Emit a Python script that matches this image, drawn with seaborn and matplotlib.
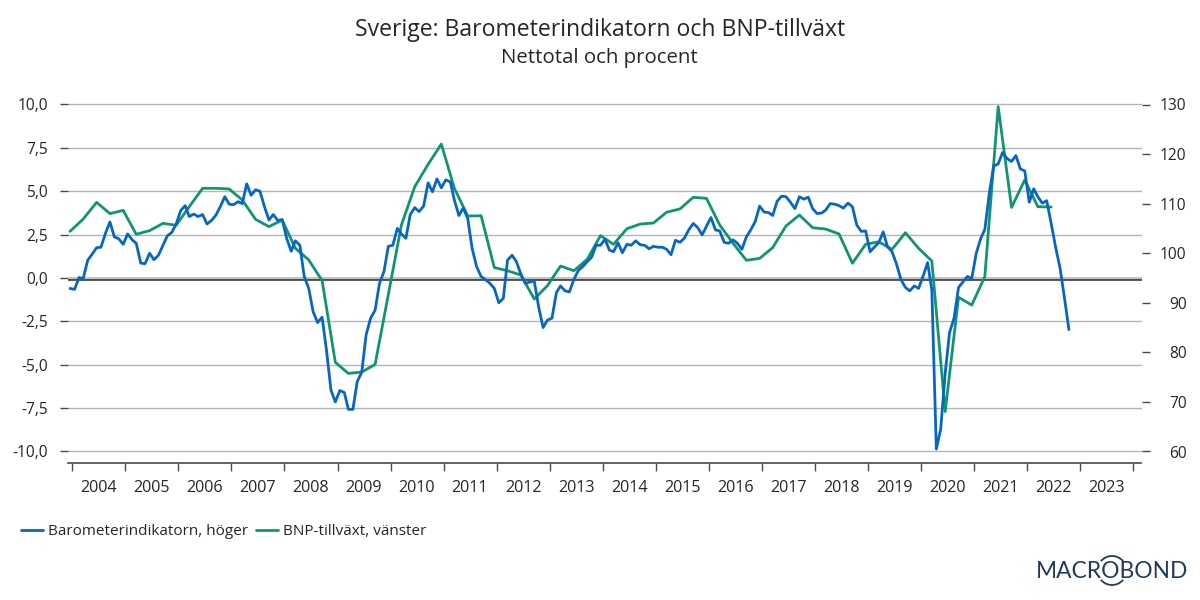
import matplotlib
matplotlib.use("Agg")
import matplotlib.pyplot as plt
import matplotlib.dates as mdates
from matplotlib.patches import Arc
import numpy as np
import pandas as pd
import seaborn as sns

TITLE = "Sverige: Barometerindikatorn och BNP-tillväxt"
SUBTITLE = "Nettotal och procent"
BLUE_NAME = "Barometerindikatorn, höger"
GREEN_NAME = "BNP-tillväxt, vänster"

barometer = [
    92.9, 92.7, 95.1, 94.9, 98.6, 99.8, 101.1, 101.2, 104.0, 106.3, 103.3, 102.9,
    101.8, 103.9, 102.7, 102.0, 98.0, 97.9, 100.0, 98.7, 99.6, 101.6, 103.5, 104.2,
    105.9, 108.6, 109.6, 107.4, 107.9, 107.4, 107.8, 105.9, 106.6, 107.7, 109.4, 111.4,
    109.9, 109.8, 110.4, 110.0, 114.0, 111.7, 112.8, 112.5, 109.4, 106.7, 107.8, 106.6,
    106.8, 103.0, 100.4, 102.5, 101.6, 95.3, 92.9, 88.2, 86.0, 87.1, 80.5, 72.4,
    70.0, 72.3, 71.9, 68.5, 68.5, 74.1, 76.0, 83.5, 86.9, 88.5, 93.9, 96.3,
    101.4, 101.6, 105.0, 103.9, 103.0, 107.8, 109.2, 108.4, 109.5, 114.2, 112.4, 115.0,
    113.2, 114.8, 114.4, 110.7, 107.6, 109.1, 107.0, 101.0, 97.3, 95.3, 94.7, 93.9,
    92.9, 90.0, 90.9, 98.6, 99.6, 98.3, 95.8, 93.9, 94.2, 94.4, 89.2, 85.0,
    86.5, 86.9, 92.1, 93.4, 92.4, 92.2, 94.7, 96.5, 97.3, 98.3, 99.2, 101.6,
    101.6, 102.8, 100.6, 100.3, 102.1, 100.1, 101.8, 101.6, 102.5, 101.7, 101.6, 100.9,
    101.4, 101.2, 101.2, 100.8, 99.7, 102.6, 102.2, 103.0, 104.7, 106.0, 105.2, 103.7,
    105.4, 107.2, 104.7, 104.5, 102.2, 102.0, 102.7, 102.0, 100.8, 103.3, 104.7, 106.4,
    109.5, 108.3, 108.2, 107.6, 110.5, 111.5, 111.4, 110.3, 109.0, 111.4, 110.9, 111.3,
    109.0, 108.0, 108.1, 108.7, 110.0, 109.9, 109.6, 109.1, 110.1, 109.4, 105.7, 104.4,
    104.5, 100.3, 101.3, 102.1, 104.3, 101.3, 100.3, 97.9, 94.7, 93.1, 92.4, 93.4,
    92.9, 95.4, 98.1, 92.6, 60.5, 64.5, 75.8, 84.0, 86.9, 93.1, 94.2, 95.3,
    94.9, 100.0, 103.0, 104.8, 112.1, 117.6, 118.0, 120.3, 119.1, 118.5, 119.7, 117.0,
    116.6, 110.3, 113.0, 111.4, 110.1, 110.6, 106.0, 101.3, 97.0, 90.9, 84.6,
]

bnp = [
    2.69, 3.40, 4.36, 3.71, 3.90, 2.52, 2.73, 3.15, 3.04, 4.11, 5.17, 5.17, 5.13,
    4.50, 3.38, 2.96, 3.34, 1.71, 1.04, -0.15, -4.86, -5.50, -5.42, -4.98, -0.96,
    3.05, 5.26, 6.55, 7.72, 5.17, 3.57, 3.59, 0.60, 0.42, 0.17, -1.21, -0.44, 0.69,
    0.42, 1.08, 2.44, 1.94, 2.84, 3.11, 3.17, 3.79, 3.98, 4.65, 4.59, 3.06, 2.00,
    1.02, 1.13, 1.75, 3.00, 3.63, 2.90, 2.82, 2.54, 0.85, 1.94, 2.09, 1.65, 2.61,
    1.71, 0.98, -7.70, -1.11, -1.56, 0.08, 9.88, 4.07, 5.65, 4.11, 4.09,
]

left_ticks = [10, 7.5, 5, 2.5, 0, -2.5, -5, -7.5, -10]
left_labels = ["10,0", "7,5", "5,0", "2,5", "0,0", "-2,5", "-5,0", "-7,5", "-10,0"]
right_ticks = [130, 120, 110, 100, 90, 80, 70, 60]
year_labels = list(range(2004, 2024))

TEXT = "#262626"
GRID = "#b4b4b4"
AXIS = "#4a4a4a"
C_BLUE = "#0766c4"
C_GREEN = "#0f9670"
NAVY = "#1f3b5c"

sns.set_theme(style="white")
plt.rcParams["font.family"] = ["Open Sans", "DejaVu Sans"]
plt.rcParams["text.color"] = TEXT

dates = pd.date_range("2003-12-01", periods=len(barometer), freq="MS") + pd.Timedelta(days=15)
df_b = pd.DataFrame({"date": dates, "value": barometer})
df_g = pd.DataFrame({"date": dates[::3][:len(bnp)], "value": bnp})

fig = plt.figure(figsize=(12, 6), dpi=100)
W, H = 1200, 600
ax_left, ax_right, ax_top, ax_bottom = 67.7, 1141.5, 95.0, 463.0
ax = fig.add_axes([ax_left / W, 1 - ax_bottom / H, (ax_right - ax_left) / W, (ax_bottom - ax_top) / H])
ax.patch.set_visible(False)

px_per_unit = 17.35
y_zero = 278.0
lim_lo = (y_zero - ax_bottom) / px_per_unit
lim_hi = (y_zero - ax_top) / px_per_unit

sns.lineplot(data=df_g, x="date", y="value", ax=ax, color=C_GREEN, linewidth=2.0, label=GREEN_NAME,
             legend=False, errorbar=None, estimator=None, zorder=3)
ax.set_ylim(lim_lo, lim_hi)
ax.set_xlim(pd.Timestamp("2003-11-30"), pd.Timestamp("2024-02-28"))
ax.set_yticks(left_ticks)
ax.set_yticklabels(left_labels)
ax.set_xlabel("")
ax.set_ylabel("")
ax.grid(axis="y", color=GRID, linewidth=1.0, zorder=1)
ax.grid(axis="x", visible=False)
ax.axhline(0, color="#c4c4c4", linewidth=2.2, zorder=1)
ax.axhline(-2 / px_per_unit, color="#2a2a2a", linewidth=1.1, zorder=2)

ax.xaxis.set_major_locator(mdates.YearLocator())
ax.xaxis.set_major_formatter(plt.NullFormatter())
ax.set_xticks([pd.Timestamp(f"{y}-07-01") for y in year_labels], minor=True)
ax.set_xticklabels([str(y) for y in year_labels], minor=True)
ax.tick_params(axis="x", which="major", length=6, width=1.0, color=AXIS, bottom=True)
ax.tick_params(axis="x", which="minor", length=0, pad=12.2, labelsize=11.6, labelcolor=TEXT, bottom=True)
ax.tick_params(axis="y", length=6, width=1.0, color=AXIS, pad=8, labelsize=11.2, labelcolor=TEXT, left=True)

for s in ["top", "left", "right"]:
    ax.spines[s].set_visible(False)
ax.spines["bottom"].set_color(AXIS)
ax.spines["bottom"].set_linewidth(1.2)

ax2 = ax.twinx()
sns.lineplot(data=df_b, x="date", y="value", ax=ax2, color=C_BLUE, linewidth=2.0, label=BLUE_NAME,
             legend=False, errorbar=None, estimator=None, zorder=4)
ax2.set_ylim(95 + 3.5 * lim_lo, 95 + 3.5 * lim_hi)
ax2.set_yticks(right_ticks)
ax2.set_yticklabels([str(v) for v in right_ticks], ha="right")
ax2.set_ylabel("")
ax2.set_xlabel("")
ax2.grid(False)
ax2.tick_params(axis="y", length=6, width=1.0, color=AXIS, pad=26.5, labelsize=11.2, labelcolor=TEXT, right=True)
for s in ["top", "left", "right", "bottom"]:
    ax2.spines[s].set_visible(False)

fig.text(600 / W, 1 - 29.5 / H, TITLE, ha="center", va="center", fontsize=16.6, color=TEXT)
fig.text(599 / W, 1 - 58 / H, SUBTITLE, ha="center", va="center", fontsize=14.7, color=TEXT)

handles = ax2.get_lines()[:1] + ax.get_lines()[:1]
fig.legend(handles, [BLUE_NAME, GREEN_NAME], loc="center left", bbox_to_anchor=(21 / W, 1 - 531.5 / H),
           ncol=2, frameon=False, fontsize=11.0, handlelength=1.44, handletextpad=0.32,
           columnspacing=0.55, borderaxespad=0, borderpad=0)

# logotype
fig.text(1112 / W, 1 - 571 / H, "MACROBOND", ha="center", va="center", fontsize=16.4, color=NAVY,
         family=["Lato", "DejaVu Sans"])
logo = fig.add_axes([0, 0, 1, 1], facecolor="none")
logo.set_xlim(0, W)
logo.set_ylim(H, 0)
logo.axis("off")
logo.add_patch(Arc((1112, 570.5), 29, 29, theta1=220, theta2=320, color=NAVY, lw=1.3))
logo.add_patch(Arc((1112, 570.5), 29, 29, theta1=40, theta2=140, color=NAVY, lw=1.3))

fig.savefig("out.png", dpi=100)
